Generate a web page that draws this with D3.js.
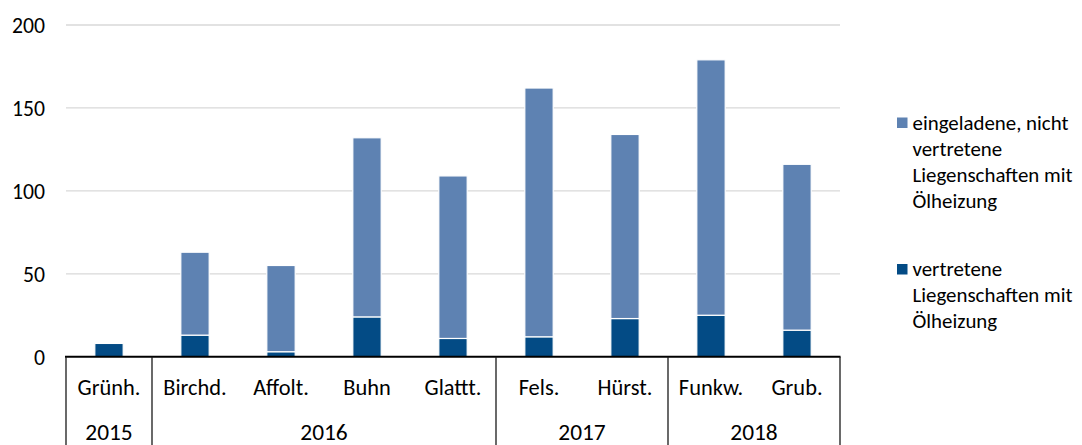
<!DOCTYPE html>
<html>
<head>
<meta charset="utf-8">
<script src="https://cdn.jsdelivr.net/npm/d3@7"></script>
<style>
  html, body { margin: 0; padding: 0; background: #fff; }
  svg { display: block; }
  text { font-family: Carlito, Lato, "Open Sans", sans-serif; fill: #000; }
</style>
</head>
<body>
<svg id="chart" width="1082" height="445"></svg>
<script>
const categories = ["Grünh.", "Birchd.", "Affolt.", "Buhn", "Glattt.", "Fels.", "Hürst.", "Funkw.", "Grub."];
const years = ["2015", "2016", "2016", "2016", "2016", "2017", "2017", "2018", "2018"];
const vertretene = [8, 13, 3, 24, 11, 12, 23, 25, 16];
const eingeladeneNichtVertretene = [0, 50, 52, 108, 98, 150, 111, 154, 100];
const yTicks = [0, 50, 100, 150, 200];
const seriesNames = ["eingeladene, nicht vertretene Liegenschaften mit Ölheizung", "vertretene Liegenschaften mit Ölheizung"];
const legendLines = [
  ["eingeladene, nicht", "vertretene", "Liegenschaften mit", "Ölheizung"],
  ["vertretene", "Liegenschaften mit", "Ölheizung"]
];

const colLight = "#5e82b2";
const colDark = "#034b85";

const svg = d3.select("#chart");

// helper: font size so that a sample string has a target width
function fitSize(sample, targetWidth) {
  const t = svg.append("text").attr("font-size", 100).text(sample);
  const w = t.node().getComputedTextLength();
  t.remove();
  return 100 * targetWidth / w;
}
const tickFs = fitSize("200", 33);
const catFs = fitSize("Grünh.", 63);
const yearFs = fitSize("2016", 47.5);
const legFs = fitSize("Liegenschaften mit", 160);

const x = d3.scaleBand().domain(categories).range([66, 840]).padding(0);
const y = d3.scaleLinear().domain([0, 200]).range([356.7, 25]);
const barW = x.bandwidth() * 0.33;

// gridlines
svg.append("g").selectAll("line").data(yTicks.filter(d => d > 0)).join("line")
  .attr("x1", 66).attr("x2", 840)
  .attr("y1", d => y(d)).attr("y2", d => y(d))
  .attr("stroke", "#d9d9d9").attr("stroke-width", 1.3);

// y tick labels
svg.append("g").selectAll("text").data(yTicks).join("text")
  .attr("x", 45).attr("y", d => y(d))
  .attr("dy", "0.36em")
  .attr("text-anchor", "end")
  .attr("font-size", tickFs)
  .text(d => d);

// stacked data
const rows = categories.map((c, i) => ({ cat: c, v: vertretene[i], n: eingeladeneNichtVertretene[i] }));
const stack = d3.stack().keys(["v", "n"])(rows);
const colors = { v: colDark, n: colLight };

svg.append("g").selectAll("g").data(stack).join("g")
  .attr("fill", d => colors[d.key])
  .selectAll("rect").data(d => d.filter(s => s[1] - s[0] > 0)).join("rect")
  .attr("x", d => x(d.data.cat) + (x.bandwidth() - barW) / 2)
  .attr("width", barW)
  .attr("y", d => y(d[1]))
  .attr("height", d => y(d[0]) - y(d[1]))
  .attr("stroke", "#fff").attr("stroke-width", 1.2);

// axis line
svg.append("line").attr("x1", 65).attr("x2", 840.5)
  .attr("y1", y(0)).attr("y2", y(0))
  .attr("stroke", "#000").attr("stroke-width", 2);

// category labels
svg.append("g").selectAll("text").data(categories).join("text")
  .attr("x", d => x(d) + x.bandwidth() / 2)
  .attr("y", 395)
  .attr("text-anchor", "middle")
  .attr("font-size", catFs)
  .text(d => d);

// year groups
const groups = [];
years.forEach((yr, i) => {
  const last = groups[groups.length - 1];
  if (last && last.year === yr) last.end = i;
  else groups.push({ year: yr, start: i, end: i });
});
const bounds = [x(categories[0])].concat(groups.map(g => x(categories[g.end]) + x.bandwidth()));
svg.append("g").selectAll("line").data(bounds).join("line")
  .attr("x1", d => d).attr("x2", d => d)
  .attr("y1", y(0)).attr("y2", 445)
  .attr("stroke", "#1a1a1a").attr("stroke-width", 1.3);

svg.append("g").selectAll("text").data(groups).join("text")
  .attr("x", g => (x(categories[g.start]) + x(categories[g.end]) + x.bandwidth()) / 2)
  .attr("y", 439.5)
  .attr("text-anchor", "middle")
  .attr("font-size", yearFs)
  .text(g => g.year);

// legend
const legendTops = [129.5, 276];
const legendColors = [colLight, colDark];
legendLines.forEach((lines, k) => {
  const g = svg.append("g").attr("class", "legend").attr("aria-label", seriesNames[k]);
  g.append("rect").attr("x", 897).attr("y", legendTops[k] - 12).attr("width", 10.5).attr("height", 10.5)
    .attr("fill", legendColors[k]);
  g.selectAll("text").data(lines).join("text")
    .attr("x", 912.5)
    .attr("y", (d, i) => legendTops[k] + i * 26)
    .attr("font-size", legFs)
    .text(d => d);
});
</script>
</body>
</html>
